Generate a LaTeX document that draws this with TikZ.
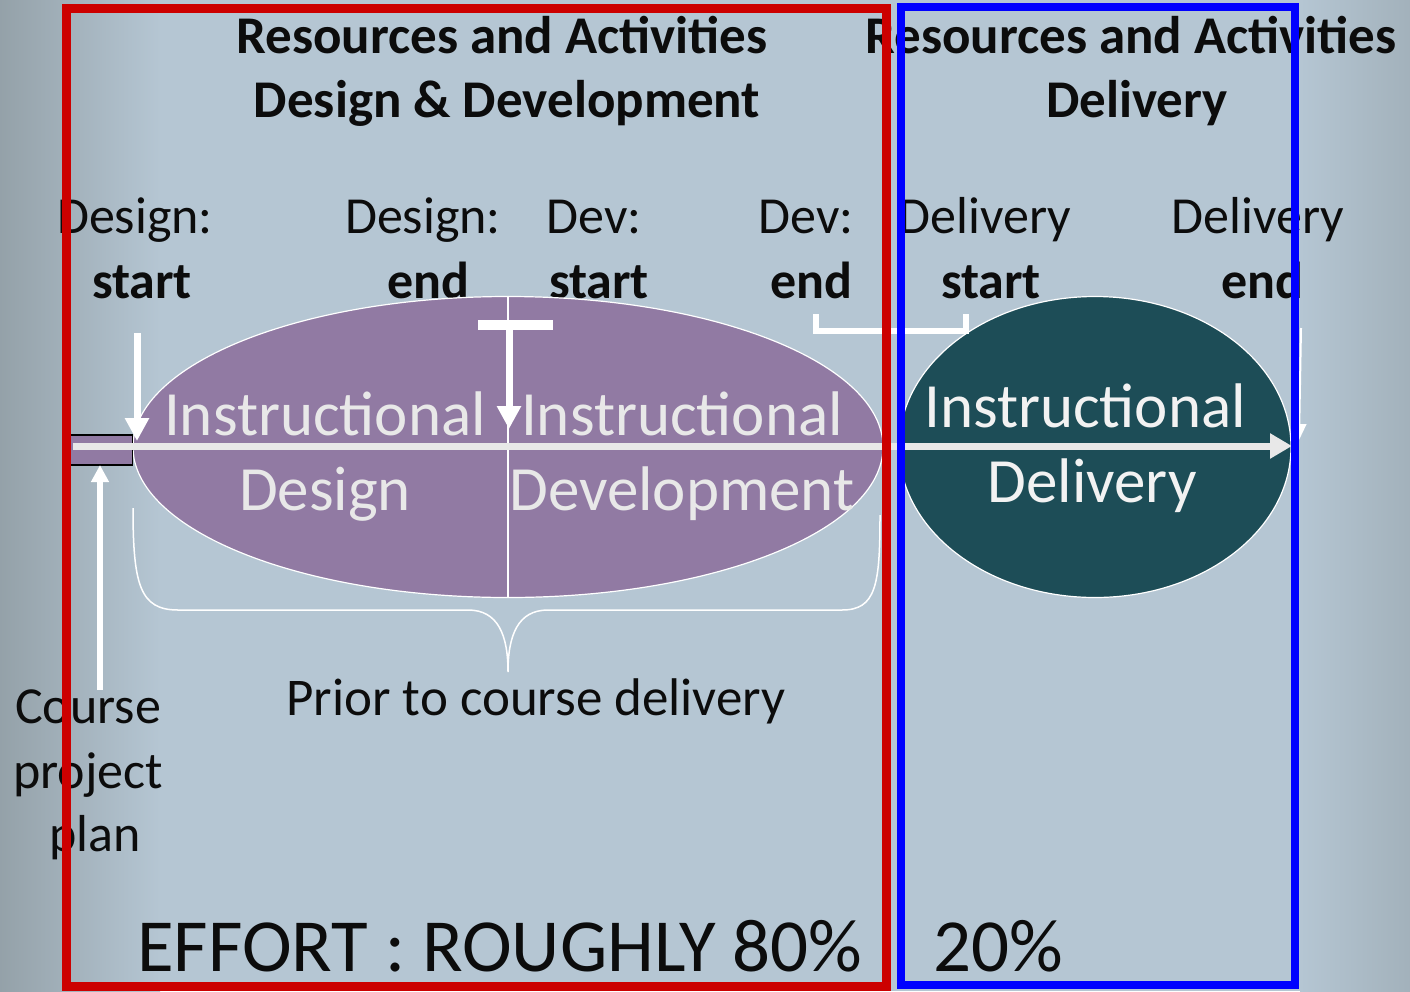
\documentclass[tikz,border=0pt]{standalone}
\usepackage{fontspec}
\setmainfont{Carlito}
\usetikzlibrary{arrows.meta,shapes.geometric}
\definecolor{bgblue}{RGB}{181,198,211}
\definecolor{bggray}{RGB}{140,152,158}
\definecolor{phasepurple}{RGB}{145,122,163}
\definecolor{phaseteal}{RGB}{29,77,87}
\definecolor{framered}{RGB}{204,0,0}
\definecolor{frameblue}{RGB}{0,0,255}
\definecolor{linegray}{RGB}{232,232,232}
\definecolor{inktext}{RGB}{12,12,12}

\begin{document}
\begin{tikzpicture}[x=1pt,y=-1pt]
        \tikzstyle{every node}=[inner sep=0pt, text=inktext]
        \tikzstyle{header}=[anchor=base, font=\fontsize{53}{64}\selectfont\bfseries]
        \tikzstyle{when}=[anchor=base, font=\fontsize{52}{64}\selectfont]
        \tikzstyle{whenb}=[anchor=base, font=\fontsize{52}{64}\selectfont\bfseries]
        \tikzstyle{phase}=[ellipse, draw=white, line width=1.2pt]
        \tikzstyle{phasetext}=[anchor=base, text=linegray, font=\fontsize{63}{70}\selectfont]
        \tikzstyle{effort}=[anchor=base, text depth=0pt, font=\fontsize{75}{80}\selectfont]
        \tikzstyle{marker}=[white, line width=7pt, -{Triangle[length=23pt,width=23pt]}]
        % background
        \useasboundingbox (0,0) rectangle (1410,991);
        \fill[bgblue] (0,0) rectangle (1410,991);
        \shade[left color=bggray!80!bgblue, right color=bgblue] (0,0) rectangle (160,991);
        \shade[left color=bgblue, right color=bggray!45!bgblue] (1300,0) rectangle (1410,991);
        % headings
        \node[header] (hdd1) at (502,53) {Resources and Activities};
        \node[header] (hdd2) at (507,117) {Design \& Development};
        \node[header] (hdl1) at (1131,53) {Resources and Activities};
        \node[header] (hdl2) at (1137,117) {Delivery};
        % milestones
        \node[when] (dsa) at (135,233) {Design:};
        \node[whenb] (dsb) at (142,298) {start};
        \node[when] (dea) at (423,233) {Design:};
        \node[whenb] (deb) at (428,298) {end};
        \node[when] (vsa) at (594,233) {Dev:};
        \node[whenb] (vsb) at (599,298) {start};
        \node[when] (vea) at (806,233) {Dev:};
        \node[whenb] (veb) at (811,298) {end};
        \node[when] (lsa) at (985,233) {Delivery};
        \node[whenb] (lsb) at (991,298) {start};
        \node[when] (lea) at (1258,233) {Delivery};
        \node[whenb] (leb) at (1262,298) {end};
        % phases
        \node[phase, fill=phasepurple, minimum width=750pt, minimum height=301pt] (dd) at (508,447) {};
        \draw[white, line width=1.2pt] (dd.north) -- (dd.south);
        \node[phase, fill=phaseteal, minimum width=392pt, minimum height=301pt] (dl) at (1095,447) {};
        \node[draw=black, fill=phasepurple, line width=1.5pt, minimum width=63pt, minimum height=30pt] (plan) at (101,450) {};
        \node[phasetext] (idt) at (325,435) {Instructional};
        \node[phasetext] (idb) at (325,510) {Design};
        \node[phasetext] (ivt) at (682,435) {Instructional};
        \node[phasetext] (ivb) at (682,510) {Development};
        \node[phasetext, text=white!95!black] (ilt) at (1085,427) {Instructional};
        \node[phasetext, text=white!95!black] (ilb) at (1092,502) {Delivery};
        % timeline
        \coordinate (tl0) at (73,446);
        \coordinate (tl1) at (1292,446);
        \draw[linegray, line width=7pt, -{Triangle[length=22pt,width=24pt]}] (tl0) -- (tl1);
        \coordinate (ds0) at (137,333);
        \coordinate (ds1) at (137,441);
        \draw[marker] (ds0) -- (ds1);
        \coordinate (pp0) at (100,690);
        \coordinate (pp1) at (100,465);
        \draw[white, line width=6pt, -{Triangle[length=17pt,width=17pt]}] (pp0) -- (pp1);
        \coordinate (te0) at (509,325);
        \coordinate (te1) at (509,429);
        \draw[white, line width=10pt] (478,325) -- (553,325);
        \draw[marker] (te0) -- (te1);
        \draw[white, line width=6pt] (816,314) |- (966,331) -- (966,314);
        \coordinate (le0) at (1301,328);
        \coordinate (le1) at (1299,440);
        \draw[white, line width=2pt, -{Triangle[length=16pt,width=14pt]}] (le0) -- (le1);
        % brace
        \draw[white, line width=1.5pt] (133,508) .. controls (133,585) and (140,610) .. (178,610) -- (468,610)
              .. controls (498,610) and (508,635) .. (508,672)
              .. controls (508,635) and (518,610) .. (548,610) -- (842,610)
              .. controls (876,610) and (880,585) .. (880,515);
        \node[anchor=base, font=\fontsize{53}{64}\selectfont] (prior) at (536,715) {Prior to course delivery};
        \node[when] (cp1) at (88,723) {Course};
        \node[when] (cp2) at (88,788) {project};
        \node[when] (cp3) at (95,851) {plan};
        % effort
        \node[effort] (eff) at (500,971) {EFFORT : ROUGHLY 80\%};
        \node[effort] (eff2) at (998,971) {20\%};
        % frames
        \draw[framered, line width=9pt] (66,8) rectangle (886,986);
        \draw[frameblue, line width=8pt] (901,7) rectangle (1295,985);
    \end{tikzpicture}
\end{document}
